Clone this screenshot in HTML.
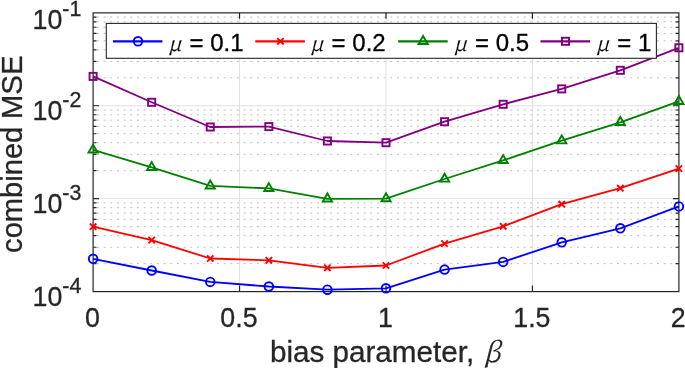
<!DOCTYPE html>
<html lang="en"><head><meta charset="utf-8"><title>combined MSE vs bias parameter</title>
<style>html,body{margin:0;padding:0;background:#fff;overflow:hidden}svg{display:block}text{font-family:"Liberation Sans",sans-serif;fill:#262626;stroke:#262626;stroke-width:.3px}.lg{fill:#000;stroke:#000}.m{font-family:"Noto Serif CJK SC","Liberation Serif",serif;font-style:italic;stroke-width:.15px}</style></head><body>
<svg width="685" height="368" viewBox="0 0 685 368">
<rect width="685" height="368" fill="#fff"/>
<path d="M93.10 263.63H678.90M93.10 247.27H678.90M93.10 235.66H678.90M93.10 226.65H678.90M93.10 219.30H678.90M93.10 213.08H678.90M93.10 207.69H678.90M93.10 202.93H678.90M93.10 170.71H678.90M93.10 154.35H678.90M93.10 142.74H678.90M93.10 133.74H678.90M93.10 126.38H678.90M93.10 120.16H678.90M93.10 114.77H678.90M93.10 110.02H678.90M93.10 77.80H678.90M93.10 61.43H678.90M93.10 49.83H678.90M93.10 40.82H678.90M93.10 33.46H678.90M93.10 27.24H678.90M93.10 21.85H678.90M93.10 17.10H678.90" stroke="#bebebe" stroke-width="1" stroke-dasharray="2 4.667" stroke-dashoffset="-3.83" fill="none"/>
<path d="M93.10 198.68H678.90M93.10 105.77H678.90M239.55 12.85V291.60M386.00 12.85V291.60M532.45 12.85V291.60" stroke="#e1e1e1" stroke-width="1" fill="none"/>
<path d="M239.55 291.60v-6.0M239.55 12.85v6.0M386.00 291.60v-6.0M386.00 12.85v6.0M532.45 291.60v-6.0M532.45 12.85v6.0M93.10 263.63h3.4M678.90 263.63h-3.4M93.10 247.27h3.4M678.90 247.27h-3.4M93.10 235.66h3.4M678.90 235.66h-3.4M93.10 226.65h3.4M678.90 226.65h-3.4M93.10 219.30h3.4M678.90 219.30h-3.4M93.10 213.08h3.4M678.90 213.08h-3.4M93.10 207.69h3.4M678.90 207.69h-3.4M93.10 202.93h3.4M678.90 202.93h-3.4M93.10 198.68h6.0M678.90 198.68h-6.0M93.10 170.71h3.4M678.90 170.71h-3.4M93.10 154.35h3.4M678.90 154.35h-3.4M93.10 142.74h3.4M678.90 142.74h-3.4M93.10 133.74h3.4M678.90 133.74h-3.4M93.10 126.38h3.4M678.90 126.38h-3.4M93.10 120.16h3.4M678.90 120.16h-3.4M93.10 114.77h3.4M678.90 114.77h-3.4M93.10 110.02h3.4M678.90 110.02h-3.4M93.10 105.77h6.0M678.90 105.77h-6.0M93.10 77.80h3.4M678.90 77.80h-3.4M93.10 61.43h3.4M678.90 61.43h-3.4M93.10 49.83h3.4M678.90 49.83h-3.4M93.10 40.82h3.4M678.90 40.82h-3.4M93.10 33.46h3.4M678.90 33.46h-3.4M93.10 27.24h3.4M678.90 27.24h-3.4M93.10 21.85h3.4M678.90 21.85h-3.4M93.10 17.10h3.4M678.90 17.10h-3.4" stroke="#262626" stroke-width="1.2" fill="none"/>
<rect x="93.10" y="12.85" width="585.80" height="278.75" fill="none" stroke="#262626" stroke-width="1.2"/>
<polyline points="93.10,258.80 151.68,270.50 210.26,281.90 268.84,286.50 327.42,289.70 386.00,288.30 444.58,269.60 503.16,261.90 561.74,242.30 620.32,228.30 678.90,206.40" fill="none" stroke="#0000ff" stroke-width="1.8" stroke-linejoin="round"/>
<circle cx="93.10" cy="258.80" r="4.3" fill="none" stroke="#0000ff" stroke-width="1.9"/>
<circle cx="151.68" cy="270.50" r="4.3" fill="none" stroke="#0000ff" stroke-width="1.9"/>
<circle cx="210.26" cy="281.90" r="4.3" fill="none" stroke="#0000ff" stroke-width="1.9"/>
<circle cx="268.84" cy="286.50" r="4.3" fill="none" stroke="#0000ff" stroke-width="1.9"/>
<circle cx="327.42" cy="289.70" r="4.3" fill="none" stroke="#0000ff" stroke-width="1.9"/>
<circle cx="386.00" cy="288.30" r="4.3" fill="none" stroke="#0000ff" stroke-width="1.9"/>
<circle cx="444.58" cy="269.60" r="4.3" fill="none" stroke="#0000ff" stroke-width="1.9"/>
<circle cx="503.16" cy="261.90" r="4.3" fill="none" stroke="#0000ff" stroke-width="1.9"/>
<circle cx="561.74" cy="242.30" r="4.3" fill="none" stroke="#0000ff" stroke-width="1.9"/>
<circle cx="620.32" cy="228.30" r="4.3" fill="none" stroke="#0000ff" stroke-width="1.9"/>
<circle cx="678.90" cy="206.40" r="4.3" fill="none" stroke="#0000ff" stroke-width="1.9"/>
<polyline points="93.10,226.70 151.68,240.10 210.26,258.50 268.84,260.30 327.42,267.80 386.00,265.50 444.58,243.60 503.16,226.30 561.74,204.20 620.32,188.20 678.90,168.60" fill="none" stroke="#ff0000" stroke-width="1.8" stroke-linejoin="round"/>
<path d="M89.90 223.50L96.30 229.90M89.90 229.90L96.30 223.50" fill="none" stroke="#ff0000" stroke-width="1.9"/>
<path d="M148.48 236.90L154.88 243.30M148.48 243.30L154.88 236.90" fill="none" stroke="#ff0000" stroke-width="1.9"/>
<path d="M207.06 255.30L213.46 261.70M207.06 261.70L213.46 255.30" fill="none" stroke="#ff0000" stroke-width="1.9"/>
<path d="M265.64 257.10L272.04 263.50M265.64 263.50L272.04 257.10" fill="none" stroke="#ff0000" stroke-width="1.9"/>
<path d="M324.22 264.60L330.62 271.00M324.22 271.00L330.62 264.60" fill="none" stroke="#ff0000" stroke-width="1.9"/>
<path d="M382.80 262.30L389.20 268.70M382.80 268.70L389.20 262.30" fill="none" stroke="#ff0000" stroke-width="1.9"/>
<path d="M441.38 240.40L447.78 246.80M441.38 246.80L447.78 240.40" fill="none" stroke="#ff0000" stroke-width="1.9"/>
<path d="M499.96 223.10L506.36 229.50M499.96 229.50L506.36 223.10" fill="none" stroke="#ff0000" stroke-width="1.9"/>
<path d="M558.54 201.00L564.94 207.40M558.54 207.40L564.94 201.00" fill="none" stroke="#ff0000" stroke-width="1.9"/>
<path d="M617.12 185.00L623.52 191.40M617.12 191.40L623.52 185.00" fill="none" stroke="#ff0000" stroke-width="1.9"/>
<path d="M675.70 165.40L682.10 171.80M675.70 171.80L682.10 165.40" fill="none" stroke="#ff0000" stroke-width="1.9"/>
<polyline points="93.10,149.90 151.68,167.40 210.26,185.80 268.84,188.40 327.42,198.80 386.00,198.60 444.58,179.00 503.16,160.40 561.74,140.70 620.32,122.30 678.90,101.30" fill="none" stroke="#008000" stroke-width="1.8" stroke-linejoin="round"/>
<path d="M93.10 144.60L97.69 152.55L88.51 152.55Z" fill="none" stroke="#008000" stroke-width="1.9" stroke-linejoin="miter"/>
<path d="M151.68 162.10L156.27 170.05L147.09 170.05Z" fill="none" stroke="#008000" stroke-width="1.9" stroke-linejoin="miter"/>
<path d="M210.26 180.50L214.85 188.45L205.67 188.45Z" fill="none" stroke="#008000" stroke-width="1.9" stroke-linejoin="miter"/>
<path d="M268.84 183.10L273.43 191.05L264.25 191.05Z" fill="none" stroke="#008000" stroke-width="1.9" stroke-linejoin="miter"/>
<path d="M327.42 193.50L332.01 201.45L322.83 201.45Z" fill="none" stroke="#008000" stroke-width="1.9" stroke-linejoin="miter"/>
<path d="M386.00 193.30L390.59 201.25L381.41 201.25Z" fill="none" stroke="#008000" stroke-width="1.9" stroke-linejoin="miter"/>
<path d="M444.58 173.70L449.17 181.65L439.99 181.65Z" fill="none" stroke="#008000" stroke-width="1.9" stroke-linejoin="miter"/>
<path d="M503.16 155.10L507.75 163.05L498.57 163.05Z" fill="none" stroke="#008000" stroke-width="1.9" stroke-linejoin="miter"/>
<path d="M561.74 135.40L566.33 143.35L557.15 143.35Z" fill="none" stroke="#008000" stroke-width="1.9" stroke-linejoin="miter"/>
<path d="M620.32 117.00L624.91 124.95L615.73 124.95Z" fill="none" stroke="#008000" stroke-width="1.9" stroke-linejoin="miter"/>
<path d="M678.90 96.00L683.49 103.95L674.31 103.95Z" fill="none" stroke="#008000" stroke-width="1.9" stroke-linejoin="miter"/>
<polyline points="93.10,76.40 151.68,102.30 210.26,127.00 268.84,126.60 327.42,141.00 386.00,142.70 444.58,121.70 503.16,104.30 561.74,88.90 620.32,70.30 678.90,47.80" fill="none" stroke="#800080" stroke-width="1.8" stroke-linejoin="round"/>
<rect x="89.55" y="72.85" width="7.10" height="7.10" fill="none" stroke="#800080" stroke-width="1.9"/>
<rect x="148.13" y="98.75" width="7.10" height="7.10" fill="none" stroke="#800080" stroke-width="1.9"/>
<rect x="206.71" y="123.45" width="7.10" height="7.10" fill="none" stroke="#800080" stroke-width="1.9"/>
<rect x="265.29" y="123.05" width="7.10" height="7.10" fill="none" stroke="#800080" stroke-width="1.9"/>
<rect x="323.87" y="137.45" width="7.10" height="7.10" fill="none" stroke="#800080" stroke-width="1.9"/>
<rect x="382.45" y="139.15" width="7.10" height="7.10" fill="none" stroke="#800080" stroke-width="1.9"/>
<rect x="441.03" y="118.15" width="7.10" height="7.10" fill="none" stroke="#800080" stroke-width="1.9"/>
<rect x="499.61" y="100.75" width="7.10" height="7.10" fill="none" stroke="#800080" stroke-width="1.9"/>
<rect x="558.19" y="85.35" width="7.10" height="7.10" fill="none" stroke="#800080" stroke-width="1.9"/>
<rect x="616.77" y="66.75" width="7.10" height="7.10" fill="none" stroke="#800080" stroke-width="1.9"/>
<rect x="675.35" y="44.25" width="7.10" height="7.10" fill="none" stroke="#800080" stroke-width="1.9"/>
<rect x="106.3" y="23.4" width="550.10" height="34.90" fill="#fff" stroke="#262626" stroke-width="1.1"/>
<path d="M113.0 41.3H162.4" stroke="#0000ff" stroke-width="2.2" fill="none"/>
<circle cx="138.00" cy="41.30" r="4.3" fill="none" stroke="#0000ff" stroke-width="1.9"/>
<text x="168.2" y="50.7" font-size="24" class="lg"><tspan class="m" font-size="20.5">μ</tspan><tspan dx="1.8"> = 0.1</tspan></text>
<path d="M255.3 41.3H304.9" stroke="#ff0000" stroke-width="2.2" fill="none"/>
<path d="M277.25 38.10L283.65 44.50M277.25 44.50L283.65 38.10" fill="none" stroke="#ff0000" stroke-width="1.9"/>
<text x="310.3" y="50.7" font-size="24" class="lg"><tspan class="m" font-size="20.5">μ</tspan><tspan dx="1.8"> = 0.2</tspan></text>
<path d="M398.1 41.3H447.7" stroke="#008000" stroke-width="2.2" fill="none"/>
<path d="M423.10 36.00L427.69 43.95L418.51 43.95Z" fill="none" stroke="#008000" stroke-width="1.9" stroke-linejoin="miter"/>
<text x="453.7" y="50.7" font-size="24" class="lg"><tspan class="m" font-size="20.5">μ</tspan><tspan dx="1.8"> = 0.5</tspan></text>
<path d="M540.5 41.3H590.1" stroke="#800080" stroke-width="2.2" fill="none"/>
<rect x="561.95" y="37.75" width="7.10" height="7.10" fill="none" stroke="#800080" stroke-width="1.9"/>
<text x="596.0" y="50.7" font-size="24" class="lg"><tspan class="m" font-size="20.5">μ</tspan><tspan dx="1.8"> = 1</tspan></text>
<text transform="translate(92.50,327.35) scale(1,1.045)" font-size="26.8" text-anchor="middle">0</text>
<text transform="translate(238.95,327.35) scale(1,1.045)" font-size="26.8" text-anchor="middle">0.5</text>
<text transform="translate(385.40,327.35) scale(1,1.045)" font-size="26.8" text-anchor="middle">1</text>
<text transform="translate(531.85,327.35) scale(1,1.045)" font-size="26.8" text-anchor="middle">1.5</text>
<text transform="translate(678.30,327.35) scale(1,1.045)" font-size="26.8" text-anchor="middle">2</text>
<text transform="translate(32.5,28.65) scale(1,1.04)" font-size="26.8">10<tspan font-size="21.4" dy="-12.6">-1</tspan></text>
<text transform="translate(32.5,120.45) scale(1,1.04)" font-size="26.8">10<tspan font-size="21.4" dy="-12.6">-2</tspan></text>
<text transform="translate(32.5,213.35) scale(1,1.04)" font-size="26.8">10<tspan font-size="21.4" dy="-12.6">-3</tspan></text>
<text transform="translate(32.5,306.25) scale(1,1.04)" font-size="26.8">10<tspan font-size="21.4" dy="-12.6">-4</tspan></text>
<text x="269.9" y="361.8" font-size="29.65">bias parameter, <tspan class="m" font-size="27.5" dx="1">β</tspan></text>
<text transform="translate(22.3,252.9) rotate(-90)" font-size="29.1">combined <tspan x="133.54" font-size="29.6">MSE</tspan></text>
</svg></body></html>
